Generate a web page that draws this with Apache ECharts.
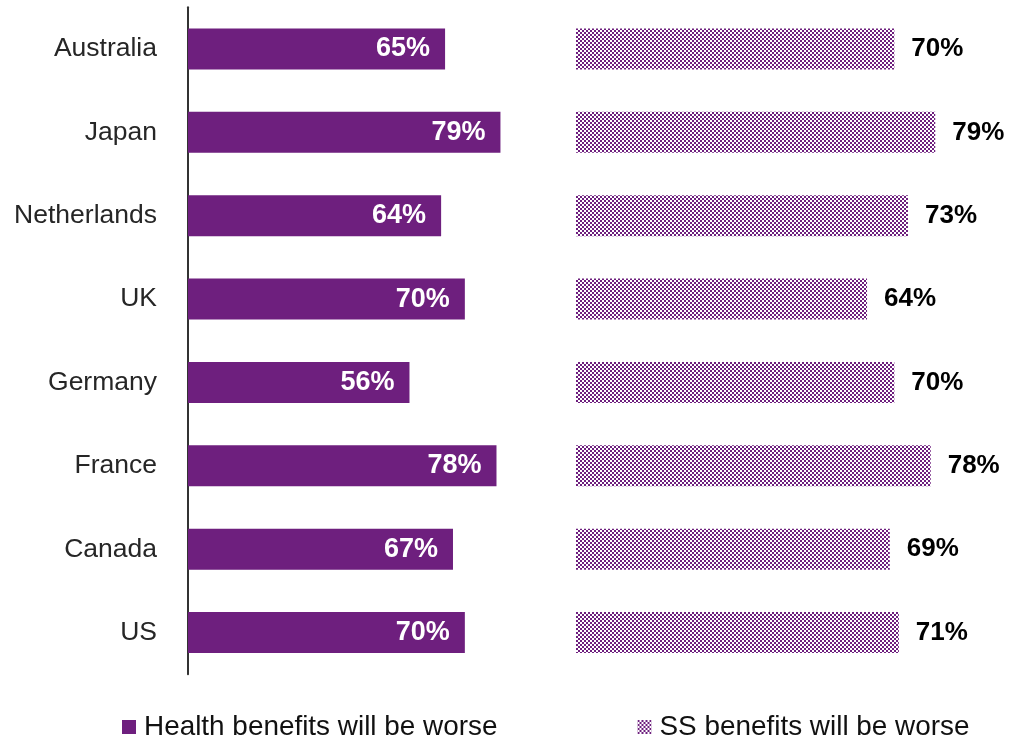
<!DOCTYPE html>
<html>
<head>
<meta charset="utf-8">
<script src="https://cdn.jsdelivr.net/npm/echarts@6/dist/echarts.min.js"></script>
<style>
html,body{margin:0;padding:0;background:#fff;}
#chart{width:1015px;height:739px;}
</style>
</head>
<body>
<div id="chart"></div>
<script>
const categories = ['Australia','Japan','Netherlands','UK','Germany','France','Canada','US'];
const healthValues = [65,79,64,70,56,78,67,70];
const ssValues = [70,79,73,64,70,78,69,71];
const seriesNames = ['Health benefits will be worse','SS benefits will be worse'];

const PURPLE = '#6E1F7E';
const FONT = "'Liberation Sans', Arial, sans-serif";

// checkerboard pattern
const pc = document.createElement('canvas');
pc.width = 4; pc.height = 4;
const ctx = pc.getContext('2d');
ctx.fillStyle = '#ffffff';
ctx.fillRect(0,0,4,4);
ctx.fillStyle = PURPLE;
ctx.fillRect(0,0,2,2);
ctx.fillRect(2,2,2,2);

const chart = echarts.init(document.getElementById('chart'), null, {renderer:'canvas'});
const gridTop = 7.3, gridHeight = 667;
chart.setOption({
  animation:false,
  backgroundColor:'#ffffff',
  textStyle:{fontFamily:FONT},
  legend:{
    data:[{name:seriesNames[0]},{name:seriesNames[1]}],
    left:122, top:713, padding:0,
    itemWidth:14, itemHeight:14, itemGap:140,
    icon:'rect',
    textStyle:{fontSize:27.9, color:'#111', fontFamily:FONT, padding:[0,0,0,3], lineHeight:28}
  },
  grid:[
    {left:188, top:gridTop, width:316.4, height:gridHeight, containLabel:false},
    {left:576, top:gridTop, width:363.8, height:gridHeight, containLabel:false}
  ],
  xAxis:[
    {gridIndex:0, type:'value', min:0, max:80, show:false},
    {gridIndex:1, type:'value', min:0, max:80, show:false}
  ],
  yAxis:[
    {gridIndex:0, type:'category', data:categories, inverse:true,
     axisLine:{show:true, lineStyle:{color:'#333', width:2}},
     axisTick:{show:false},
     axisLabel:{fontSize:26.5, color:'#262626', margin:31, fontFamily:FONT},
     splitLine:{show:false}},
    {gridIndex:1, type:'category', data:categories, inverse:true, show:false}
  ],
  series:[
    {name:seriesNames[0], type:'bar', xAxisIndex:0, yAxisIndex:0, data:healthValues,
     barWidth:41, itemStyle:{color:PURPLE},
     label:{show:true, position:'insideRight', distance:15, formatter:'{c}%',
       color:'#fff', fontWeight:'bold', fontSize:27, fontFamily:FONT}},
    {name:seriesNames[1], type:'bar', xAxisIndex:1, yAxisIndex:1, data:ssValues,
     barWidth:41, itemStyle:{color:{image:pc, repeat:'repeat'}},
     label:{show:true, position:'right', distance:17, formatter:'{c}%',
       color:'#000', fontWeight:'bold', fontSize:26, fontFamily:FONT}}
  ]
});
</script>
</body>
</html>
